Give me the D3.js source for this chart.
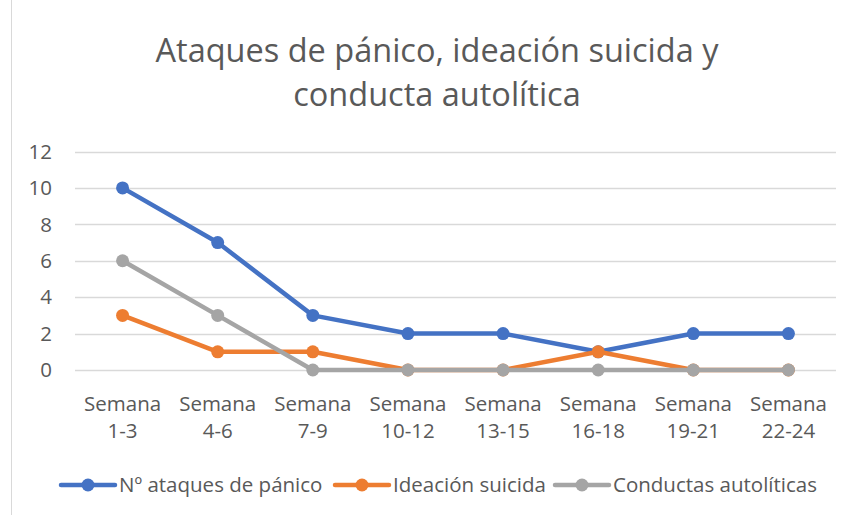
<!DOCTYPE html>
<meta charset="utf-8">
<style>
body { margin: 0; background: #fff; }
text { font-family: "Open Sans", "Noto Sans", sans-serif; fill: #595959; }
</style>
<svg width="851" height="515"></svg>
<script src="https://d3js.org/d3.v7.min.js"></script>
<script>

var categories = ["Semana 1-3", "Semana 4-6", "Semana 7-9", "Semana 10-12",
                  "Semana 13-15", "Semana 16-18", "Semana 19-21", "Semana 22-24"];
var seriesNames = ["Nº ataques de pánico", "Ideación suicida", "Conductas autolíticas"];
var ataques = [10, 7, 3, 2, 2, 1, 2, 2];
var ideacion = [3, 1, 1, 0, 0, 1, 0, 0];
var conductas = [6, 3, 0, 0, 0, 0, 0, 0];
var yTicks = [0, 2, 4, 6, 8, 10, 12];
var colors = ["#4472C4", "#ED7D31", "#A5A5A5"];

var svg = d3.select("svg");

svg.append("rect")
    .attr("x", 11.5).attr("y", -2)
    .attr("width", 900).attr("height", 530)
    .attr("fill", "none").attr("stroke", "#d9d9d9");

var plotLeft = 75, plotRight = 836, plotTop = 151.5, plotBottom = 370;

var x = d3.scaleBand().domain(categories).range([plotLeft, plotRight]),
    y = d3.scaleLinear().domain([0, 12]).range([plotBottom, plotTop]);

// title
svg.append("text")
    .attr("text-anchor", "middle")
    .style("font-size", "32.5px")
  .selectAll("tspan")
  .data(["Ataques de pánico, ideación suicida y", "conducta autolítica"])
  .enter().append("tspan")
    .attr("x", 437)
    .attr("y", function(d, i) { return 62 + i * 44; })
    .text(function(d) { return d; });

// gridlines
svg.append("g")
  .selectAll("line")
  .data(yTicks)
  .enter().append("line")
    .attr("x1", plotLeft).attr("x2", plotRight)
    .attr("y1", function(d) { return Math.round(y(d)) + 0.5; })
    .attr("y2", function(d) { return Math.round(y(d)) + 0.5; })
    .attr("stroke", "#d9d9d9").attr("stroke-width", 1.3);

// y axis labels
svg.append("g")
  .selectAll("text")
  .data(yTicks)
  .enter().append("text")
    .attr("x", 52).attr("y", function(d) { return y(d); })
    .attr("dy", "0.35em").attr("text-anchor", "end")
    .style("font-size", "20.5px")
    .text(function(d) { return d; });

// x axis labels
var xl = svg.append("g")
  .selectAll("text")
  .data(categories)
  .enter().append("text")
    .attr("text-anchor", "middle")
    .style("font-size", "20.5px");
xl.append("tspan")
    .attr("x", function(d) { return x(d) + x.bandwidth() / 2; })
    .attr("y", 411)
    .text(function(d) { return d.split(" ")[0]; });
xl.append("tspan")
    .attr("x", function(d) { return x(d) + x.bandwidth() / 2; })
    .attr("y", 438)
    .text(function(d) { return d.split(" ")[1]; });

var line = d3.line()
    .x(function(d, i) { return x(categories[i]) + x.bandwidth() / 2; })
    .y(function(d) { return y(d); });

[ataques, ideacion, conductas].forEach(function(values, k) {
  var g = svg.append("g");
  g.append("path")
      .datum(values)
      .attr("d", line)
      .attr("fill", "none")
      .attr("stroke", colors[k])
      .attr("stroke-width", 4.5)
      .attr("stroke-linejoin", "round")
      .attr("stroke-linecap", "round");
  g.selectAll("circle")
    .data(values)
    .enter().append("circle")
      .attr("cx", function(d, i) { return x(categories[i]) + x.bandwidth() / 2; })
      .attr("cy", function(d) { return y(d); })
      .attr("r", 6.5)
      .attr("fill", colors[k]);
});

// legend
var legendX = [61, 335, 555];
var lg = svg.append("g")
  .selectAll("g")
  .data(seriesNames)
  .enter().append("g")
    .attr("transform", function(d, i) { return "translate(" + legendX[i] + ",485)"; });
lg.append("line")
    .attr("x1", 0).attr("x2", 54)
    .attr("stroke", function(d, i) { return colors[i]; })
    .attr("stroke-width", 4.5)
    .attr("stroke-linecap", "round");
lg.append("circle")
    .attr("cx", 27).attr("r", 6.5)
    .attr("fill", function(d, i) { return colors[i]; });
lg.append("text")
    .attr("x", 58).attr("dy", "0.35em")
    .style("font-size", "20.5px")
    .text(function(d) { return d; });

</script>
